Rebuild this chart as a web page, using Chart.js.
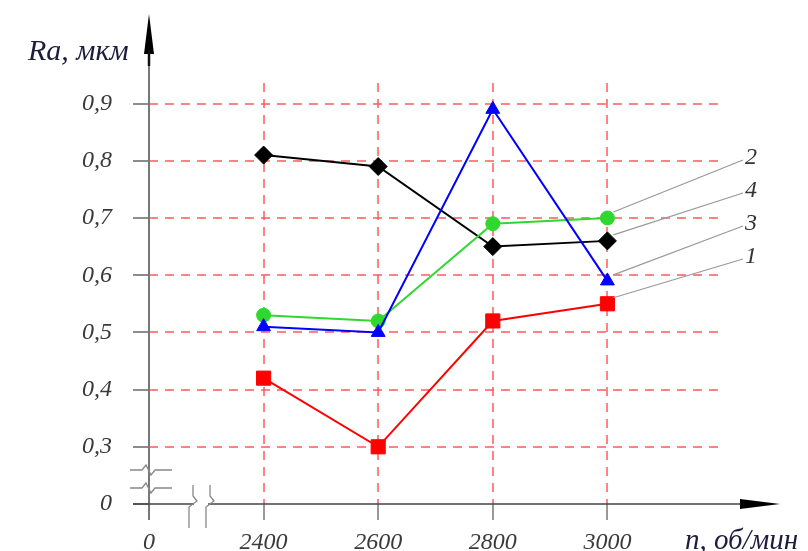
<!DOCTYPE html>
<html lang="ru">
<head>
<meta charset="UTF-8">
<title>Ra от n</title>
<style>
  * { margin: 0; padding: 0; box-sizing: border-box; }
  body { background: #fff; }
  #wrap { position: relative; width: 808px; height: 551px; }
</style>
</head>
<body>
<div id="wrap"><canvas id="raChart"></canvas></div>

<script src="https://cdn.jsdelivr.net/npm/chart.js"></script>
<script>
// tick labels of the (broken) axes
const xTickLabels = ['0', '2400', '2600', '2800', '3000'];
const yTickValues = [0.2, 0.3, 0.4, 0.5, 0.6, 0.7, 0.8, 0.9];   // 0.2 stands for the broken "0"
const speeds = [2400, 2600, 2800, 3000];

// Ra, мкм for each curve
const curve1 = [0.42, 0.30, 0.52, 0.55];   // red squares
const curve3 = [0.51, 0.50, 0.89, 0.59];   // blue triangles
const curve2 = [0.53, 0.52, 0.69, 0.70];   // green circles
const curve4 = [0.81, 0.79, 0.65, 0.66];   // black diamonds

const serif = "'Liberation Serif', 'DejaVu Serif', serif";
const gridRed = 'rgba(255, 90, 90, 0.75)';

function pts(vals) {
  return vals.map((v, i) => ({ x: xTickLabels.indexOf(String(speeds[i])), y: v }));
}

function makeSet(name, vals, color, style, radius, width) {
  return {
    label: name,
    data: pts(vals),
    borderColor: color,
    backgroundColor: color,
    borderWidth: width,
    pointStyle: style,
    pointRadius: radius,
    pointBorderWidth: 1,
    pointBackgroundColor: color,
    pointBorderColor: color,
    tension: 0
  };
}

// axes with arrows, breaks, axis titles and numbered leaders
const decor = {
  id: 'decor',
  afterDatasetsDraw(chart) {
    const { ctx, chartArea: a, scales: { x, y } } = chart;
    const x0 = x.getPixelForValue(0);
    const y0 = y.getPixelForValue(0.2);
    ctx.save();

    // y axis
    ctx.strokeStyle = '#777';
    ctx.lineWidth = 2;
    ctx.beginPath();
    ctx.moveTo(x0, y0 + 16);
    ctx.lineTo(x0, 50);
    ctx.stroke();
    ctx.fillStyle = '#000';
    ctx.beginPath();
    ctx.moveTo(x0, 14);
    ctx.lineTo(x0 - 5, 54);
    ctx.lineTo(x0 + 5, 54);
    ctx.closePath();
    ctx.fill();
    ctx.lineWidth = 2.5;
    ctx.strokeStyle = '#111';
    ctx.beginPath();
    ctx.moveTo(x0, 50);
    ctx.lineTo(x0, 66);
    ctx.stroke();

    // x axis
    ctx.strokeStyle = '#444';
    ctx.lineWidth = 1.5;
    ctx.beginPath();
    ctx.moveTo(x0 - 16, y0);
    ctx.lineTo(x0 + 45, y0);
    ctx.moveTo(x0 + 59, y0);
    ctx.lineTo(742, y0);
    ctx.stroke();
    ctx.beginPath();
    ctx.moveTo(780, y0);
    ctx.lineTo(740, y0 - 5);
    ctx.lineTo(740, y0 + 5);
    ctx.closePath();
    ctx.fillStyle = '#000';
    ctx.fill();

    // breaks
    ctx.strokeStyle = '#888';
    ctx.lineWidth = 1.3;
    [y0 - 34, y0 - 16].forEach(yy => {
      ctx.beginPath();
      ctx.moveTo(x0 - 19, yy);
      ctx.lineTo(x0 - 7, yy);
      ctx.lineTo(x0 - 3, yy - 5);
      ctx.lineTo(x0 + 2, yy + 5);
      ctx.lineTo(x0 + 6, yy);
      ctx.lineTo(x0 + 23, yy);
      ctx.stroke();
    });
    [x0 + 44, x0 + 61].forEach(xx => {
      ctx.beginPath();
      ctx.moveTo(xx, y0 - 19);
      ctx.lineTo(xx, y0 - 8);
      ctx.lineTo(xx + 4, y0 - 3);
      ctx.lineTo(xx - 4, y0 + 3);
      ctx.lineTo(xx - 4, y0 + 24);
      ctx.stroke();
    });

    // axis titles
    ctx.fillStyle = '#1c1c3c';
    ctx.textBaseline = 'alphabetic';
    ctx.textAlign = 'left';
    ctx.font = 'italic 30px ' + serif;
    ctx.fillText('Ra, мкм', 28, 60);
    ctx.font = 'italic 29px ' + serif;
    ctx.fillText('n, об/мин', 685, 549);

    // numbered leaders, ordered by last value
    const order = chart.data.datasets
      .map((ds, i) => ({ ds, i, last: ds.data[ds.data.length - 1] }))
      .sort((p, q) => q.last.y - p.last.y);
    ctx.font = 'italic 24px ' + serif;
    ctx.textBaseline = 'middle';
    order.forEach((o, k) => {
      const px = x.getPixelForValue(o.last.x);
      const py = y.getPixelForValue(o.last.y);
      const ex = a.right + 21;
      const ey = a.top + 77 + k * 33;
      ctx.strokeStyle = '#999';
      ctx.lineWidth = 1.2;
      ctx.beginPath();
      ctx.moveTo(px + 6, py - 6);
      ctx.lineTo(ex, ey);
      ctx.stroke();
      ctx.fillStyle = '#333';
      ctx.fillText(o.ds.label, ex + 2, ey - 2);
    });

    ctx.restore();
  }
};

new Chart(document.getElementById('raChart'), {
  type: 'line',
  data: {
    datasets: [
      makeSet('1', curve1, '#ff0000', 'rect', 10, 2),
      makeSet('3', curve3, '#0000ff', 'triangle', 8, 2),
      makeSet('2', curve2, '#2fd82f', 'circle', 7, 2),
      makeSet('4', curve4, '#000000', 'rectRot', 9, 2)
    ]
  },
  options: {
    responsive: true,
    maintainAspectRatio: false,
    animation: false,
    layout: { padding: { top: 83, right: 86, left: 0, bottom: 0 } },
    plugins: { legend: { display: false }, tooltip: { enabled: false } },
    scales: {
      x: {
        type: 'linear',
        min: 0,
        max: 5,
        afterFit: s => { s.height = 47; },
        afterBuildTicks: s => { s.ticks = xTickLabels.map((t, i) => ({ value: i })); },
        border: { display: false, dash: [9, 7] },
        grid: {
          color: c => (c.tick && c.tick.value === 0 ? 'rgba(0,0,0,0)' : gridRed),
          lineWidth: 2,
          tickLength: 16,
          tickColor: '#777',
          tickWidth: 1.5,
          tickBorderDash: []
        },
        ticks: {
          autoSkip: false,
          maxRotation: 0,
          padding: 8,
          color: '#3a3a3a',
          font: { family: serif, style: 'italic', size: 24 },
          callback: v => xTickLabels[v]
        }
      },
      y: {
        type: 'linear',
        min: 0.2,
        max: 0.936,
        afterFit: s => { s.width = 149; },
        afterBuildTicks: s => { s.ticks = yTickValues.map(v => ({ value: v })); },
        border: { display: false, dash: [9, 7] },
        grid: {
          color: c => (c.tick && c.tick.value < 0.25 ? 'rgba(0,0,0,0)' : gridRed),
          lineWidth: 2,
          tickLength: 16,
          tickColor: '#666',
          tickWidth: 1.5,
          tickBorderDash: []
        },
        ticks: {
          padding: 21,
          color: '#3a3a3a',
          font: { family: serif, style: 'italic', size: 24 },
          callback: v => (v < 0.25 ? '0' : v.toFixed(1).replace('.', ','))
        }
      }
    }
  },
  plugins: [decor]
});
</script>
</body>
</html>
